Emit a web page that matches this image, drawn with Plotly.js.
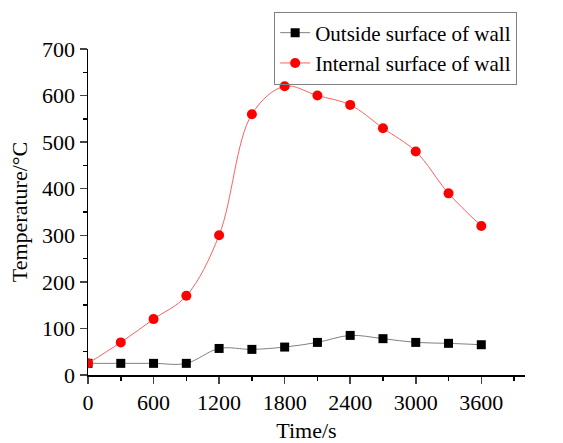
<!DOCTYPE html>
<html><head><meta charset="utf-8">
<script src="https://cdn.plot.ly/plotly-3.0.1.min.js"></script>
<style>body{margin:0;background:#fff}#c{width:563px;height:443px}</style>
</head><body><div id="c"></div>
<script>
const timeS = [0,300,600,900,1200,1500,1800,2100,2400,2700,3000,3300,3600];
const outsideWall = [25,25,25,25,57,55,60,70,85,78,70,68,65];
const internalWall = [25,70,120,170,300,560,620,600,580,530,480,390,320];
const xTicks = [0,600,1200,1800,2400,3000,3600];
const font = {family:'"Liberation Serif", "Times New Roman", serif', color:'#000', size:22};
const legFont = {family:'"Liberation Serif", "Times New Roman", serif', color:'#000', size:21};
const traces = [
  {x:timeS, y:outsideWall, name:'Outside surface of wall', mode:'lines+markers', line:{shape:'spline', color:'#808080', width:1}, marker:{symbol:'square', size:9, color:'#000'}},
  {x:timeS, y:internalWall, name:'Internal surface of wall', mode:'lines+markers', line:{shape:'spline', color:'#ff6060', width:1}, marker:{symbol:'circle', size:10, color:'#ff0000'}}
];
const layout = {
  width:563, height:443, font:font, showlegend:true,
  paper_bgcolor:'#fff', plot_bgcolor:'#fff',
  margin:{l:88, r:38, t:49, b:68, autoexpand:false},
  xaxis:{range:[0,4000], tickvals:xTicks, ticks:'outside', ticklen:7, tickwidth:1.5, showline:true, linewidth:1.5, linecolor:'#000', showgrid:false, zeroline:false,
    minor:{ticks:'outside', dtick:300, ticklen:4, tickwidth:1.5, tickcolor:'#000', showgrid:false},
    title:{text:'Time/s', font:font, standoff:16}},
  yaxis:{range:[0,700], dtick:100, ticks:'outside', ticklen:7, tickwidth:1.5, showline:true, linewidth:1.5, linecolor:'#000', showgrid:false, zeroline:false,
    minor:{ticks:'outside', dtick:50, ticklen:4, tickwidth:1.5, tickcolor:'#000', showgrid:false},
    title:{text:'Temperature/°C', font:font, standoff:8}},
  legend:{x:0.426, y:1.115, xanchor:'left', yanchor:'top', bordercolor:'#808080', borderwidth:1, bgcolor:'rgba(255,255,255,0)', font:legFont, tracegroupgap:0}
};
Plotly.newPlot('c', traces, layout, {displayModeBar:false, staticPlot:true});
</script></body></html>
